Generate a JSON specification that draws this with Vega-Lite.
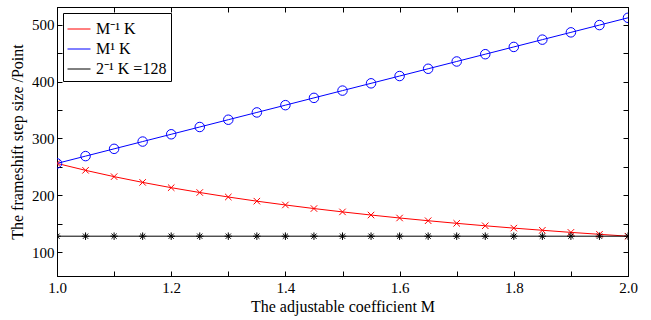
{
  "$schema": "https://vega.github.io/schema/vega-lite/v6.json",
  "width": 571,
  "height": 269,
  "autosize": {"type": "none"},
  "padding": {"left": 57, "top": 7, "right": 23, "bottom": 44},
  "background": "white",
  "config": {
    "font": "Liberation Serif",
    "view": {"stroke": "black", "strokeWidth": 1},
    "axis": {
      "labelFont": "Liberation Serif", "titleFont": "Liberation Serif",
      "labelFontSize": 15, "titleFontSize": 16, "titleFontWeight": "normal",
      "labelColor": "black", "titleColor": "black",
      "domainColor": "black", "tickColor": "black", "tickSize": -5,
      "grid": false
    },
    "legend": {
      "labelFont": "Liberation Serif", "labelFontSize": 16, "labelColor": "black"
    }
  },
  "data": {"values": [
    {"M": 1.0, "v": 256.0, "s": "M⁻¹ K"},
    {"M": 1.05, "v": 243.8, "s": "M⁻¹ K"},
    {"M": 1.1, "v": 232.7, "s": "M⁻¹ K"},
    {"M": 1.15, "v": 222.6, "s": "M⁻¹ K"},
    {"M": 1.2, "v": 213.3, "s": "M⁻¹ K"},
    {"M": 1.25, "v": 204.8, "s": "M⁻¹ K"},
    {"M": 1.3, "v": 196.9, "s": "M⁻¹ K"},
    {"M": 1.35, "v": 189.6, "s": "M⁻¹ K"},
    {"M": 1.4, "v": 182.9, "s": "M⁻¹ K"},
    {"M": 1.45, "v": 176.6, "s": "M⁻¹ K"},
    {"M": 1.5, "v": 170.7, "s": "M⁻¹ K"},
    {"M": 1.55, "v": 165.2, "s": "M⁻¹ K"},
    {"M": 1.6, "v": 160.0, "s": "M⁻¹ K"},
    {"M": 1.65, "v": 155.2, "s": "M⁻¹ K"},
    {"M": 1.7, "v": 150.6, "s": "M⁻¹ K"},
    {"M": 1.75, "v": 146.3, "s": "M⁻¹ K"},
    {"M": 1.8, "v": 142.2, "s": "M⁻¹ K"},
    {"M": 1.85, "v": 138.4, "s": "M⁻¹ K"},
    {"M": 1.9, "v": 134.7, "s": "M⁻¹ K"},
    {"M": 1.95, "v": 131.3, "s": "M⁻¹ K"},
    {"M": 2.0, "v": 128.0, "s": "M⁻¹ K"},
    {"M": 1.0, "v": 256.0, "s": "M¹ K"},
    {"M": 1.05, "v": 268.8, "s": "M¹ K"},
    {"M": 1.1, "v": 281.6, "s": "M¹ K"},
    {"M": 1.15, "v": 294.4, "s": "M¹ K"},
    {"M": 1.2, "v": 307.2, "s": "M¹ K"},
    {"M": 1.25, "v": 320.0, "s": "M¹ K"},
    {"M": 1.3, "v": 332.8, "s": "M¹ K"},
    {"M": 1.35, "v": 345.6, "s": "M¹ K"},
    {"M": 1.4, "v": 358.4, "s": "M¹ K"},
    {"M": 1.45, "v": 371.2, "s": "M¹ K"},
    {"M": 1.5, "v": 384.0, "s": "M¹ K"},
    {"M": 1.55, "v": 396.8, "s": "M¹ K"},
    {"M": 1.6, "v": 409.6, "s": "M¹ K"},
    {"M": 1.65, "v": 422.4, "s": "M¹ K"},
    {"M": 1.7, "v": 435.2, "s": "M¹ K"},
    {"M": 1.75, "v": 448.0, "s": "M¹ K"},
    {"M": 1.8, "v": 460.8, "s": "M¹ K"},
    {"M": 1.85, "v": 473.6, "s": "M¹ K"},
    {"M": 1.9, "v": 486.4, "s": "M¹ K"},
    {"M": 1.95, "v": 499.2, "s": "M¹ K"},
    {"M": 2.0, "v": 512.0, "s": "M¹ K"},
    {"M": 1.0, "v": 128, "s": "2⁻¹ K =128"},
    {"M": 1.05, "v": 128, "s": "2⁻¹ K =128"},
    {"M": 1.1, "v": 128, "s": "2⁻¹ K =128"},
    {"M": 1.15, "v": 128, "s": "2⁻¹ K =128"},
    {"M": 1.2, "v": 128, "s": "2⁻¹ K =128"},
    {"M": 1.25, "v": 128, "s": "2⁻¹ K =128"},
    {"M": 1.3, "v": 128, "s": "2⁻¹ K =128"},
    {"M": 1.35, "v": 128, "s": "2⁻¹ K =128"},
    {"M": 1.4, "v": 128, "s": "2⁻¹ K =128"},
    {"M": 1.45, "v": 128, "s": "2⁻¹ K =128"},
    {"M": 1.5, "v": 128, "s": "2⁻¹ K =128"},
    {"M": 1.55, "v": 128, "s": "2⁻¹ K =128"},
    {"M": 1.6, "v": 128, "s": "2⁻¹ K =128"},
    {"M": 1.65, "v": 128, "s": "2⁻¹ K =128"},
    {"M": 1.7, "v": 128, "s": "2⁻¹ K =128"},
    {"M": 1.75, "v": 128, "s": "2⁻¹ K =128"},
    {"M": 1.8, "v": 128, "s": "2⁻¹ K =128"},
    {"M": 1.85, "v": 128, "s": "2⁻¹ K =128"},
    {"M": 1.9, "v": 128, "s": "2⁻¹ K =128"},
    {"M": 1.95, "v": 128, "s": "2⁻¹ K =128"},
    {"M": 2.0, "v": 128, "s": "2⁻¹ K =128"}
  ]},
  "layer": [
    {
      "mark": {"type": "line", "strokeWidth": 1, "clip": true},
      "encoding": {
        "x": {"field": "M", "type": "quantitative",
          "scale": {"domain": [1.0, 2.0], "nice": false, "zero": false},
          "axis": {"orient": "bottom", "title": "The adjustable coefficient M",
            "values": [1.0, 1.1, 1.2, 1.3, 1.4, 1.5, 1.6, 1.7, 1.8, 1.9, 2.0],
            "labelExpr": "round(datum.value*10)%2==0 ? format(datum.value,'.1f') : ''",
            "labelPadding": 9, "titlePadding": 3, "labelFlush": false}},
        "y": {"field": "v", "type": "quantitative",
          "scale": {"domain": [58, 531], "nice": false, "zero": false},
          "axis": {"orient": "left", "title": "The frameshift step size /Point",
            "values": [100, 150, 200, 250, 300, 350, 400, 450, 500],
            "labelExpr": "datum.value%100==0 ? datum.label : ''",
            "labelPadding": 8, "titlePadding": 6}},
        "color": {"field": "s", "type": "nominal",
          "scale": {"domain": ["M⁻¹ K", "M¹ K", "2⁻¹ K =128"], "range": ["#ff0000", "#0000ff", "#000000"]},
          "legend": {"title": null, "orient": "top-left", "offset": 6,
            "symbolType": "stroke", "symbolSize": 529, "symbolStrokeWidth": 1,
            "strokeColor": "black", "fillColor": "white", "padding": 4,
            "rowPadding": 0, "labelOffset": 5}}
      }
    },
    {
      "transform": [{"filter": "datum.s == 'M⁻¹ K'"}],
      "mark": {"type": "point", "filled": false, "strokeWidth": 1, "opacity": 1, "clip": true,
        "color": "#ff0000", "shape": "M-1,-1L1,1M-1,1L1,-1", "size": 42},
      "encoding": {
        "x": {"field": "M", "type": "quantitative",
          "axis": {"orient": "top", "title": null, "labels": false,
            "values": [1.0, 1.1, 1.2, 1.3, 1.4, 1.5, 1.6, 1.7, 1.8, 1.9, 2.0]}},
        "y": {"field": "v", "type": "quantitative",
          "axis": {"orient": "right", "title": null, "labels": false,
            "values": [100, 150, 200, 250, 300, 350, 400, 450, 500]}}
      }
    },
    {
      "transform": [{"filter": "datum.s == 'M¹ K'"}],
      "mark": {"type": "point", "filled": false, "strokeWidth": 1, "opacity": 1, "clip": true,
        "color": "#0000ff", "shape": "circle", "size": 90},
      "encoding": {
        "x": {"field": "M", "type": "quantitative", "axis": null},
        "y": {"field": "v", "type": "quantitative", "axis": null}
      }
    },
    {
      "transform": [{"filter": "datum.s == '2⁻¹ K =128'"}],
      "mark": {"type": "point", "filled": false, "strokeWidth": 1, "opacity": 1, "clip": true,
        "color": "#000000", "shape": "M-1,0L1,0M0,-1L0,1M-0.7,-0.7L0.7,0.7M-0.7,0.7L0.7,-0.7", "size": 56},
      "encoding": {
        "x": {"field": "M", "type": "quantitative", "axis": null},
        "y": {"field": "v", "type": "quantitative", "axis": null}
      }
    }
  ],
  "resolve": {"axis": {"x": "independent", "y": "independent"}}
}
